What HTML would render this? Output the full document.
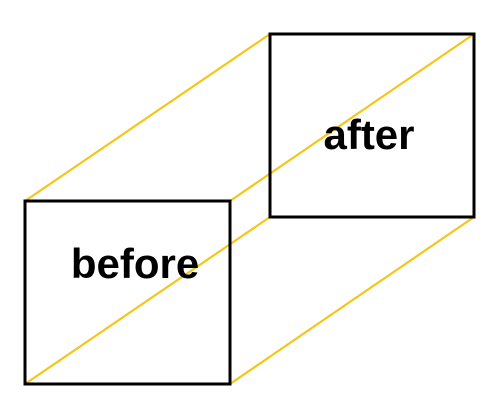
<!DOCTYPE html>
<html><head><meta charset="utf-8"><style>
html,body{margin:0;padding:0;background:#fff;}
svg{display:block;}
text{font-family:"Liberation Sans",sans-serif;font-weight:bold;font-size:42px;fill:#000;}
</style></head><body>
<svg width="501" height="413" viewBox="0 0 501 413">
<g stroke="#f5c518" stroke-width="2.2">
<line x1="25" y1="201" x2="270" y2="34"/>
<line x1="230" y1="201" x2="474" y2="34"/>
<line x1="25" y1="384" x2="270" y2="217"/>
<line x1="230" y1="384" x2="474" y2="217"/>
</g>
<rect x="25" y="201" width="205" height="183" fill="none" stroke="#000" stroke-width="3"/>
<rect x="270" y="34" width="204" height="183" fill="none" stroke="#000" stroke-width="3"/>
<text x="135" y="278" text-anchor="middle">before</text>
<text x="369" y="149" text-anchor="middle">after</text>
</svg>
</body></html>
